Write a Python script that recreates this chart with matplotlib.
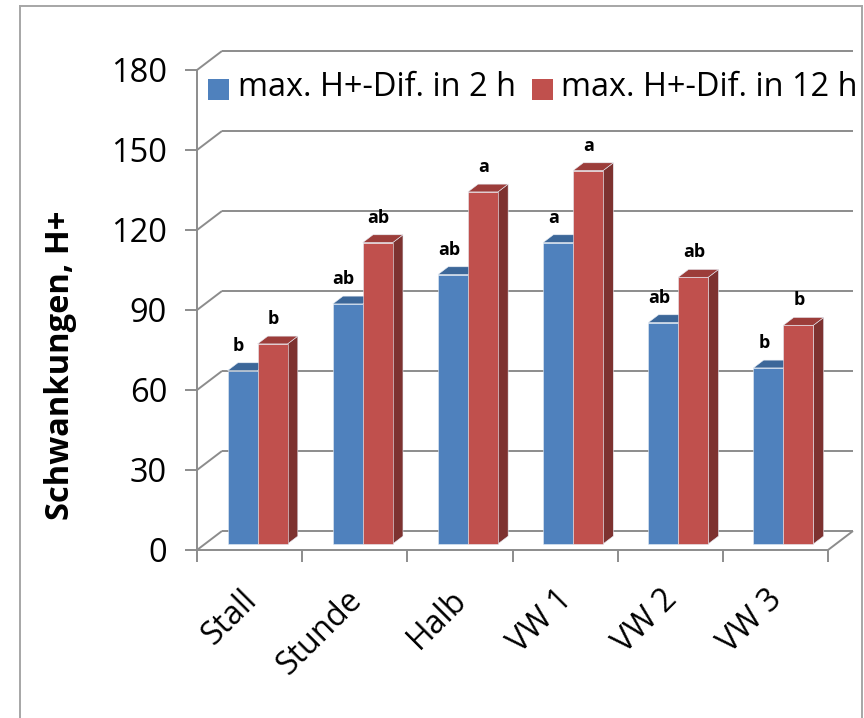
import numpy as np
import matplotlib
matplotlib.use("Agg")
import matplotlib.pyplot as plt
from matplotlib.patches import Polygon, Rectangle
from matplotlib.transforms import IdentityTransform, ScaledTranslation

plt.rcParams['font.family'] = ['Open Sans', 'DejaVu Sans']

# data
categories = ['Stall', 'Stunde', 'Halb', 'VW 1', 'VW 2', 'VW 3']
series_names = ['max. H+-Dif. in 2 h', 'max. H+-Dif. in 12 h']
dif_2h = [65, 90, 101, 113, 83, 66]
dif_12h = [75, 113, 132, 140, 100, 82]
letters_2h = ['b', 'ab', 'ab', 'a', 'ab', 'b']
letters_12h = ['b', 'ab', 'a', 'a', 'ab', 'b']
yticks = [0, 30, 60, 90, 120, 150, 180]

# colours: front, top, side
blue = ('#4F81BD', '#3C6799', '#2F5379')
red = ('#C0504D', '#9C3D3A', '#7D3230')
grid_col = '#8C8C8C'

W, H = 864, 718
fig = plt.figure(figsize=(W / 100, H / 100), dpi=100)
ax = fig.add_axes([197 / W, 168 / H, 631 / W, 480 / H])
ax.set_xlim(-0.5, 5.5)
ax.set_ylim(0, 180)
ax.patch.set_visible(False)

# depth of the back wall in pixels (x right, y up)
WALL = np.array([25.0, 19.0])
F0 = 0.32          # front of bars, as fraction of wall depth
FD = 0.41          # bar depth
BW = 0.285         # bar width in category units
disp = IdentityTransform()


def px(x, v, f=0.0):
    return ax.transData.transform((x, v)) + f * WALL


def line(p, q, **kw):
    ax.plot([p[0], q[0]], [p[1], q[1]], transform=disp, color=grid_col,
            lw=1.4, solid_capstyle='butt', clip_on=False, zorder=1, **kw)


# back wall gridlines and left side wall
for v in yticks:
    line(px(-0.5, v, 1), px(5.5, v, 1))
    line(px(-0.5, v, 0), px(-0.5, v, 1))
# floor
line(px(5.5, 0, 0), px(5.5, 0, 1))

# axes spines / ticks
for s in ['top', 'right']:
    ax.spines[s].set_visible(False)
for s in ['left', 'bottom']:
    ax.spines[s].set_color(grid_col)
    ax.spines[s].set_linewidth(1.4)
ax.set_yticks(yticks)
ax.set_yticklabels([str(t) for t in yticks], fontsize=23.5)
ax.tick_params(axis='y', direction='out', length=8.6, width=1.4,
               color=grid_col, pad=13)
ax.set_xticks(np.arange(len(categories)))
ax.set_xticklabels([])
ax.tick_params(axis='x', which='major', length=0)
ax.set_xticks(np.arange(len(categories) + 1) - 0.5, minor=True)
ax.tick_params(axis='x', which='minor', direction='out', length=8.6,
               width=1.4, color=grid_col)


def bar3d(x0, v, cols, letter, ldx):
    x1 = x0 + BW
    f1 = F0 + FD
    front = [px(x0, 0, F0), px(x1, 0, F0), px(x1, v, F0), px(x0, v, F0)]
    top = [px(x0, v, F0), px(x1, v, F0), px(x1, v, f1), px(x0, v, f1)]
    side = [px(x1, 0, F0), px(x1, 0, f1), px(x1, v, f1), px(x1, v, F0)]
    for poly, c in [(side, cols[2]), (top, cols[1]), (front, cols[0])]:
        ax.add_patch(Polygon(poly, closed=True, transform=disp, facecolor=c,
                             edgecolor='#E6ECF4', lw=0.4, clip_on=False,
                             zorder=2))
    cx, cy = px(x0 + BW / 2, v, F0)
    ax.text(cx + ldx, cy + 25, letter, transform=disp, ha='center',
            va='center', fontsize=13, fontweight='bold', zorder=3)


for i in range(len(categories)):
    bar3d(i - BW, dif_2h[i], blue, letters_2h[i], -4)
    bar3d(i, dif_12h[i], red, letters_12h[i], 1)

# category labels
lab_off = ScaledTranslation(2 / 100, -45 / 100, fig.dpi_scale_trans)
for i, c in enumerate(categories):
    ax.text(i, 0, c, transform=ax.transData + lab_off, rotation=45,
            rotation_mode='anchor', ha='right', va='center', fontsize=23)

ax.set_ylabel('Schwankungen, H+', fontsize=23.5, fontweight='bold')
ax.yaxis.set_label_coords(-0.19, 0.385)

# legend
def fig_xy(x, y):
    return x / W, 1 - y / H

for sx, tx, col, name in [(208, 238, blue[0], series_names[0]),
                          (532, 561, red[0], series_names[1])]:
    x, y = fig_xy(sx, 100)
    fig.add_artist(Rectangle((x, y), 21 / W, 21 / H, transform=fig.transFigure,
                             facecolor=col, edgecolor='none'))
    fig.text(*fig_xy(tx, 88), name, fontsize=23.4, va='center', ha='left')

# chart border
for (xa, ya), (xb, yb) in [((19.5, 6), (19.5, H)), ((19.5, 6), (861.5, 6)),
                           ((861.5, 6), (861.5, H))]:
    fig.add_artist(plt.Line2D([xa / W, xb / W], [1 - ya / H, 1 - yb / H],
                              transform=fig.transFigure, color='#A6A6A6',
                              lw=1.4))

fig.savefig('out.png', dpi=100)
